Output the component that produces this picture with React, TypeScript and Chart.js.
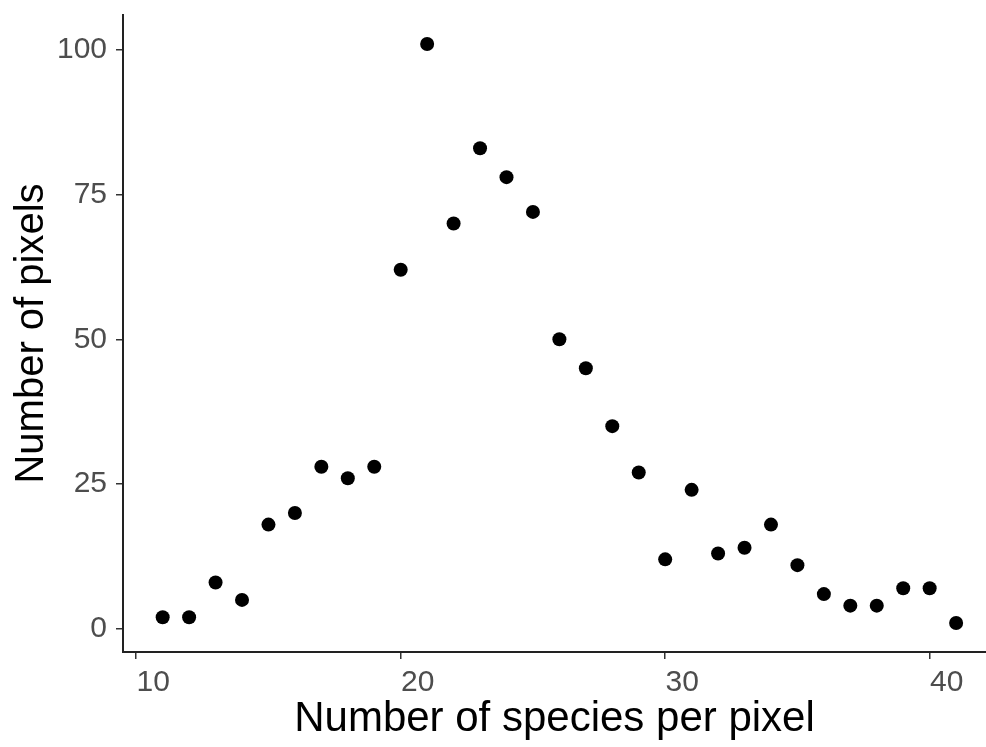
import React, { useEffect, useRef } from "react";
import { Chart, registerables } from "chart.js";

Chart.register(...registerables);

const speciesPerPixel = [11, 12, 13, 14, 15, 16, 17, 18, 19, 20, 21, 22, 23, 24, 25, 26, 27, 28, 29, 30, 31, 32, 33, 34, 35, 36, 37, 38, 39, 40, 41];
const pixelCounts = [2, 2, 8, 5, 18, 20, 28, 26, 28, 62, 101, 70, 83, 78, 72, 50, 45, 35, 27, 12, 24, 13, 14, 18, 11, 6, 4, 4, 7, 7, 1];
const xTickValues = [10, 20, 30, 40];
const yTickValues = [0, 25, 50, 75, 100];

const xTitle = "Number of species per pixel";
const yTitle = "Number of pixels";

export default function App() {
  const canvasRef = useRef<HTMLCanvasElement | null>(null);

  useEffect(() => {
    const canvas = canvasRef.current;
    if (!canvas) return;
    const points = speciesPerPixel.map((x, i) => ({ x, y: pixelCounts[i] }));
    const fontFamily = "'Liberation Sans', Arial, sans-serif";
    const chart = new Chart(canvas, {
      type: "scatter",
      data: {
        datasets: [
          {
            data: points,
            backgroundColor: "#000000",
            borderColor: "#000000",
            pointRadius: 7,
            pointHoverRadius: 7,
            borderWidth: 0,
            clip: false,
          },
        ],
      },
      options: {
        animation: false,
        responsive: false,
        maintainAspectRatio: false,
        events: [],
        layout: { autoPadding: false, padding: { top: 15, right: 0, left: 0, bottom: 0 } },
        plugins: {
          legend: { display: false },
          tooltip: { enabled: false },
        },
        scales: {
          x: {
            type: "linear",
            min: 9.5,
            max: 42.13,
            afterBuildTicks: (scale: any) => {
              scale.ticks = xTickValues.map((v) => ({ value: v }));
            },
            afterFit: (scale: any) => {
              scale.height = 95;
              scale.paddingLeft = 0;
              scale.paddingRight = 0;
            },
            grid: {
              display: true,
              drawOnChartArea: false,
              drawTicks: true,
              tickLength: 7,
              color: "#333333",
              tickColor: "#333333",
              lineWidth: 1.5,
            },
            border: { display: true, color: "#222222", width: 2 },
            ticks: {
              color: "#4D4D4D",
              font: { family: fontFamily, size: 30 },
              padding: 6,
              labelOffset: 17,
              maxRotation: 0,
              autoSkip: false,
            },
            title: {
              display: true,
              text: xTitle,
              color: "#000000",
              font: { family: fontFamily, size: 42 },
              padding: { top: 0, bottom: 2 },
            },
          },
          y: {
            type: "linear",
            min: -4,
            max: 106,
            afterBuildTicks: (scale: any) => {
              scale.ticks = yTickValues.map((v) => ({ value: v }));
            },
            afterFit: (scale: any) => {
              scale.width = 123;
              scale.paddingTop = 0;
              scale.paddingBottom = 0;
            },
            grid: {
              display: true,
              drawOnChartArea: false,
              drawTicks: true,
              tickLength: 7,
              color: "#333333",
              tickColor: "#333333",
              lineWidth: 1.5,
            },
            border: { display: true, color: "#222222", width: 2 },
            ticks: {
              color: "#4D4D4D",
              font: { family: fontFamily, size: 30 },
              padding: 9,
              autoSkip: false,
            },
            title: {
              display: true,
              text: yTitle,
              color: "#000000",
              font: { family: fontFamily, size: 40 },
              padding: { top: 8, bottom: 0 },
            },
          },
        },
      },
    } as any);
    return () => {
      chart.destroy();
    };
  }, []);

  return (
    <div style={{ position: "fixed", left: 0, top: 0, width: 986, height: 747, background: "#ffffff" }}>
      <canvas ref={canvasRef} width={986} height={747} style={{ width: 986, height: 747, display: "block" }} />
    </div>
  );
}
